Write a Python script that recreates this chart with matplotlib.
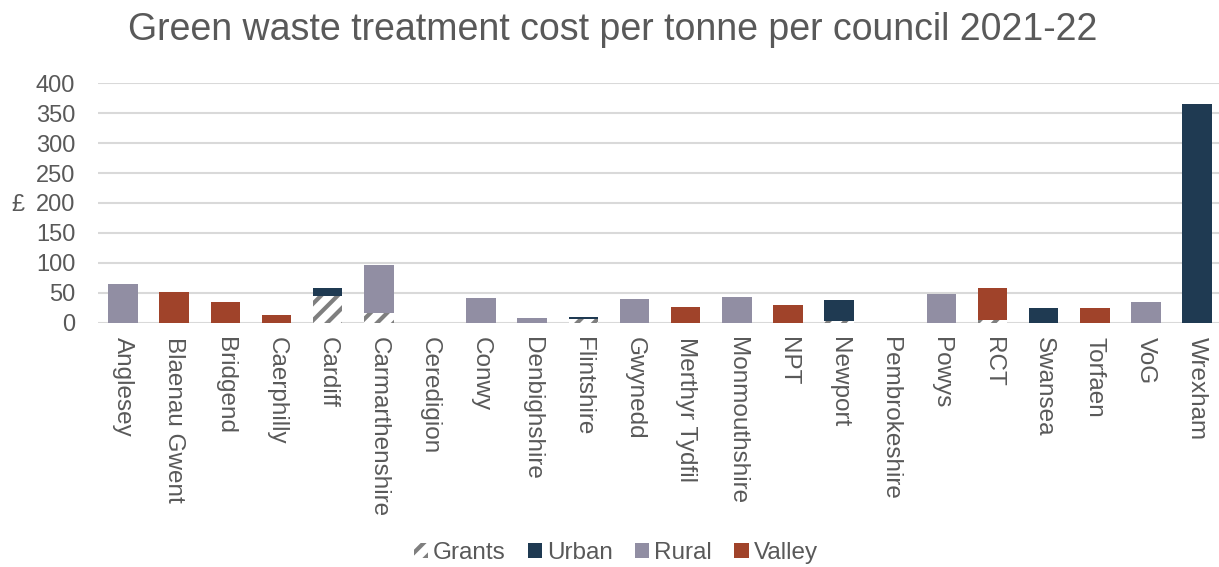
import numpy as np
import matplotlib.pyplot as plt
from matplotlib.patches import Patch

plt.rcParams['font.family'] = ['Liberation Sans', 'DejaVu Sans']
plt.rcParams['hatch.linewidth'] = 3.0

councils = ['Anglesey', 'Blaenau Gwent', 'Bridgend', 'Caerphilly', 'Cardiff',
            'Carmarthenshire', 'Ceredigion', 'Conwy', 'Denbighshire', 'Flintshire',
            'Gwynedd', 'Merthyr Tydfil', 'Monmouthshire', 'NPT', 'Newport',
            'Pembrokeshire', 'Powys', 'RCT', 'Swansea', 'Torfaen', 'VoG', 'Wrexham']

# cost per tonne (£), split into grant-funded part and the council's own type
grants = [0, 0, 0, 0, 45, 16, 0, 0, 0, 6.5, 0, 0, 0, 0, 2, 0, 0, 5, 0, 0, 0, 0]
urban = [0, 0, 0, 0, 13, 0, 0, 0, 0, 3, 0, 0, 0, 0, 36, 0, 0, 0, 25, 0, 0, 365]
rural = [65, 0, 0, 0, 0, 80, 0, 41, 8, 0, 40, 0, 43, 0, 0, 0, 48, 0, 0, 0, 35, 0]
valley = [0, 51, 35, 12, 0, 0, 0, 0, 0, 0, 0, 26, 0, 29, 0, 0, 0, 52.5, 0, 25, 0, 0]

yticks = [0, 50, 100, 150, 200, 250, 300, 350, 400]

text_col = '#595959'
grid_col = '#D9D9D9'

fig = plt.figure(figsize=(12.19, 5.67), dpi=100)
ax = fig.add_axes([0.08, 0.431, 0.923, 0.422])

x = np.arange(len(councils))
w = 0.58
bottom = np.zeros(len(councils))

ax.bar(x, grants, w, bottom=bottom, facecolor='white', edgecolor='#7F7F7F',
       hatch='//', linewidth=0, zorder=3)
bottom += np.array(grants)
ax.bar(x, urban, w, bottom=bottom, color='#1F3A52', linewidth=0, zorder=3)
bottom += np.array(urban)
ax.bar(x, rural, w, bottom=bottom, color='#918EA3', linewidth=0, zorder=3)
bottom += np.array(rural)
ax.bar(x, valley, w, bottom=bottom, color='#A0432A', linewidth=0, zorder=3)

ax.set_xlim(-0.5, len(councils) - 0.5)
ax.set_ylim(0, 400)
ax.set_yticks(yticks)
ax.yaxis.grid(True, color=grid_col, linewidth=1.5, zorder=0)
ax.set_axisbelow(True)
for s in ax.spines.values():
    s.set_visible(False)
ax.tick_params(axis='both', length=0, labelcolor=text_col)
ax.tick_params(axis='x', pad=10, labelsize=17.5)
ax.tick_params(axis='y', pad=16, labelsize=17)
ax.set_xticks(x)
ax.set_xticklabels(councils, rotation=-90, ha='center', va='top')

ax.set_ylabel('£', rotation=0, fontsize=17, color=text_col, va='center', ha='center')
ax.yaxis.set_label_coords(-0.071, 0.49)

fig.text(0.503, 0.947, 'Green waste treatment cost per tonne per council 2021-22',
         ha='center', va='center', fontsize=27, color=text_col)

handles = [
    Patch(facecolor='white', edgecolor='#7F7F7F', hatch='//', linewidth=0, label='Grants'),
    Patch(facecolor='#1F3A52', label='Urban'),
    Patch(facecolor='#918EA3', label='Rural'),
    Patch(facecolor='#A0432A', label='Valley'),
]
leg = fig.legend(handles=handles, loc='center', bbox_to_anchor=(0.505, 0.025), ncol=4,
                 frameon=False, fontsize=17.5, handlelength=0.6, handleheight=0.6,
                 handletextpad=0.2, columnspacing=0.9)
for t in leg.get_texts():
    t.set_color(text_col)

fig.savefig('out.png', dpi=100)
